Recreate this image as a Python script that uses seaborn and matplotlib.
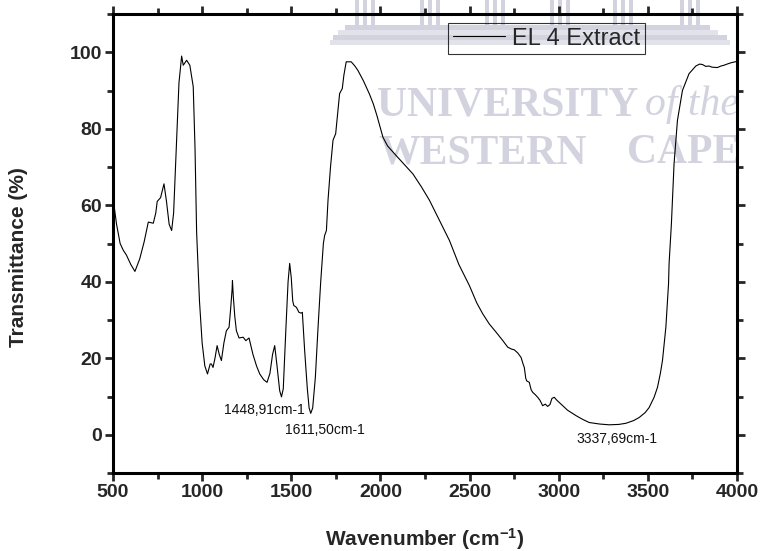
import numpy as np
import pandas as pd
import matplotlib
matplotlib.use("Agg")
import matplotlib.pyplot as plt
import seaborn as sns
from matplotlib.patches import Rectangle

# ---- data ----
wavenumber = [500, 520, 540, 558, 575, 600, 623, 650, 675, 698, 726, 740, 748, 767, 786, 800, 815, 829,
              840, 855, 870, 885, 894, 913, 931, 940, 950, 960, 969, 985, 1000, 1015, 1030, 1045, 1052,
              1061, 1072, 1084, 1096, 1108, 1122, 1136, 1151, 1160, 1168, 1170, 1175, 1183, 1192, 1207,
              1230, 1245, 1263, 1285, 1305, 1323, 1345, 1364, 1380, 1395, 1407, 1420, 1435, 1445, 1455,
              1470, 1482, 1491, 1500, 1508, 1514, 1529, 1543, 1555, 1562, 1575, 1590, 1600, 1609, 1620,
              1635, 1650, 1665, 1680, 1687, 1697, 1706, 1720, 1734, 1749, 1760, 1771, 1786, 1795, 1808,
              1836, 1855, 1873, 1905, 1939, 1960, 1980, 1995, 2014, 2040, 2088, 2135, 2182, 2230, 2275, 2341,
              2387, 2440, 2499, 2540, 2574, 2610, 2649, 2685, 2714, 2735, 2751, 2770, 2789, 2800, 2807,
              2815, 2820, 2835, 2845, 2854, 2868, 2882, 2895, 2910, 2925, 2938, 2951, 2962, 2975, 2990,
              3013, 3050, 3097, 3135, 3171, 3230, 3283, 3337, 3377, 3420, 3451, 3485, 3507, 3535, 3554,
              3570, 3582, 3601, 3616, 3619, 3632, 3647, 3666, 3694, 3731, 3769, 3790, 3806, 3825, 3843,
              3860, 3890, 3910, 3927, 3950, 3970, 4000]
transmittance = [62, 55, 50, 48.2, 47, 44.5, 42.7, 46, 50.5, 55.6, 55.3, 58, 61, 62, 65.6, 61, 55, 53.4,
                 58, 75, 92, 99, 96.6, 97.9, 96.6, 94, 91, 75, 53, 35, 24, 18, 15.9, 18.5, 18.5,
                 17.6, 20, 23.3, 21, 19.4, 24, 27.2, 28.1, 33, 38, 40.3, 36, 31, 27.2, 25.3,
                 25.5, 24.6, 25.3, 21, 18, 15.9, 14.4, 13.7, 16, 21, 23.3, 18, 11.5, 9.9, 12,
                 28, 40, 44.8, 41, 35, 33.8, 33.3, 32, 31.8, 32, 22, 12, 7, 5.6, 7,
                 15, 28, 40, 50, 52.1, 53.4, 61.3, 70, 77, 78.7, 84, 89.2, 90.5, 94, 97.5,
                 97.5, 96.5, 95.3, 92.5, 89, 86.5, 83.5, 81, 77.8, 75.5, 73, 70.6, 68.2, 64.8, 61.3, 55.1,
                 50.8, 44.5, 39, 34.5, 31.6, 29, 26.8, 24.7, 22.9, 22.4, 22.2, 21.4, 20.2, 18.5, 17.6,
                 14.8, 14.1, 13.7, 11.8, 11.1, 10.5, 9.8, 9, 7.6, 8, 7.4, 7.9, 9.5, 9.8, 9,
                 8, 6.4, 5, 4, 3.2, 2.8, 2.6, 2.7, 3, 3.7, 4.5, 5.8, 7.1, 9.8, 12.4,
                 16, 19.4, 28.1, 39.5, 44.7, 55.1, 70.9, 82.2, 90, 94.4, 96.4, 96.9, 96.8, 96.3, 96.4,
                 96.1, 96, 96.4, 96.6, 97.0, 97.3, 97.6]
series_name = "EL 4 Extract"
peak_labels = ["1448,91cm-1", "1611,50cm-1", "3337,69cm-1"]
peak_label_x = [1347, 1686, 3327]
peak_label_y = [6.5, 1.3, -1.0]
x_ticks = [500, 1000, 1500, 2000, 2500, 3000, 3500, 4000]
y_ticks = [0, 20, 40, 60, 80, 100]

df = pd.DataFrame({"Wavenumber": wavenumber, "Transmittance": transmittance})

sns.set_style("white")
plt.rcParams["font.family"] = ["Liberation Sans", "DejaVu Sans"]
plt.rcParams["mathtext.fontset"] = "custom"
plt.rcParams["mathtext.rm"] = "Liberation Sans:bold"
plt.rcParams["mathtext.it"] = "Liberation Sans:bold"
plt.rcParams["mathtext.bf"] = "Liberation Sans:bold"

W, H = 760, 551
fig = plt.figure(figsize=(W / 100, H / 100), dpi=100)
L, R, T, B = 113, 737, 14, 473
ax = fig.add_axes([L / W, 1 - B / H, (R - L) / W, (B - T) / H])
ax.set_facecolor("none")
ax.set_zorder(2)

# ---- watermark (background of the scanned page) ----
wm = "#d2d3de"
wm2 = "#e2e3ea"
def fx(px):
    return px / W
def fy(py):
    return 1 - py / H
for x0 in [355, 420, 485, 550, 613, 680]:
    for k in range(3):
        fig.patches.append(Rectangle((fx(x0 + k * 8), fy(25)), 4 / W, 25 / H, transform=fig.transFigure,
                                     facecolor=wm, edgecolor="none", zorder=0))
for i, (xa, xb, ya, yb) in enumerate([(345, 710, 25, 30), (338, 718, 30, 35), (333, 727, 35, 40), (330, 730, 40, 45)]):
    fig.patches.append(Rectangle((fx(xa), fy(yb)), (xb - xa) / W, (yb - ya) / H, transform=fig.transFigure,
                                 facecolor=wm if i % 2 == 0 else wm2, edgecolor="none", zorder=0))
serif = ["Liberation Serif", "DejaVu Serif"]
fig.text(fx(377), fy(115), "UNIVERSITY", family=serif, weight="bold",
         fontsize=30, color=wm, ha="left", va="baseline", zorder=0)
fig.text(fx(645), fy(115), "of the", family=serif, style="italic",
         fontsize=30, color=wm, ha="left", va="baseline", zorder=0)
fig.text(fx(378), fy(163), "WESTERN", family=serif, weight="bold",
         fontsize=30, color=wm, ha="left", va="baseline", zorder=0)
fig.text(fx(740), fy(163), "CAPE", family=serif, weight="bold",
         fontsize=30, color=wm, ha="right", va="baseline", zorder=0)

# ---- spectrum ----
sns.lineplot(data=df, x="Wavenumber", y="Transmittance", sort=False, color="black", linewidth=0.8,
             label=series_name, ax=ax, zorder=3)

ax.set_xlim(500, 4000)
ax.set_ylim(-10, 110)
ax.set_xticks(x_ticks)
ax.set_xticks([750, 1250, 1750, 2250, 2750, 3250, 3750], minor=True)
ax.set_yticks(y_ticks)
ax.set_yticks([-10, 10, 30, 50, 70, 90, 110], minor=True)
ax.set_xticklabels([str(v) for v in x_ticks])
ax.set_yticklabels([str(v) for v in y_ticks])

for s in ax.spines.values():
    s.set_linewidth(2.2)
    s.set_color("black")
ax.tick_params(axis="both", which="major", direction="out", length=6, width=2, labelsize=14,
               pad=2, bottom=True, left=True, top=True, right=True)
ax.tick_params(axis="both", which="minor", direction="out", length=4, width=2,
               bottom=True, left=True, top=True, right=True)
for lab in ax.get_xticklabels() + ax.get_yticklabels():
    lab.set_fontweight("bold")

ax.set_xlabel(r"Wavenumber (cm$^{-1}$)", fontsize=15, fontweight="bold", va="center")
ax.set_ylabel("Transmittance (%)", fontsize=15, fontweight="bold", va="center")
ax.xaxis.set_label_coords(0.5, (B - 539) / (B - T))
ax.yaxis.set_label_coords((19 - L) / (R - L), (B - 257) / (B - T))

for txt, xx, yy in zip(peak_labels, peak_label_x, peak_label_y):
    ax.text(xx, yy, txt, fontsize=10, ha="center", va="center", color="#111111")

leg = ax.legend(loc="upper left", bbox_to_anchor=((448 - L) / (R - L), (B - 23) / (B - T)),
                borderaxespad=0, frameon=True, fancybox=False, fontsize=17, handlelength=2.2,
                handletextpad=0.3, borderpad=0.2)
leg.get_frame().set_edgecolor("black")
leg.get_frame().set_linewidth(0.8)
leg.get_frame().set_facecolor("none")
for line in leg.get_lines():
    line.set_linewidth(0.8)

fig.savefig("out.png", dpi=100)
